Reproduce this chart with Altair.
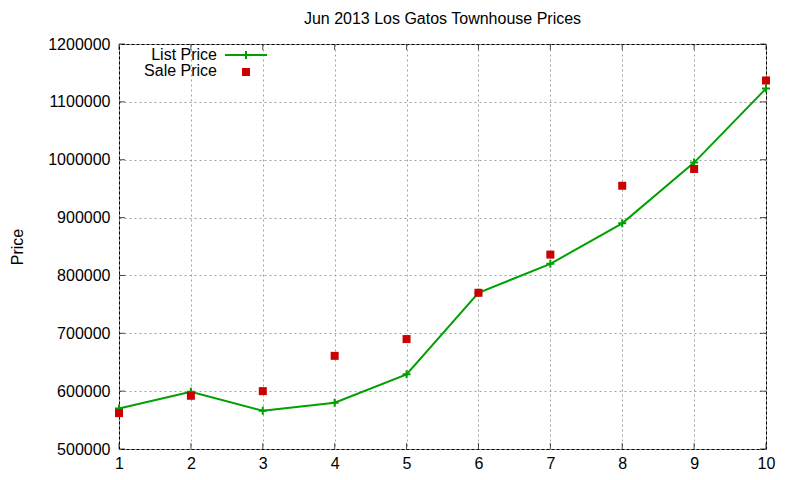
import altair as alt
import pandas as pd

months = [1, 2, 3, 4, 5, 6, 7, 8, 9, 10]
list_price = [570000, 599000, 566000, 580000, 629000, 770000, 820000, 890000, 995000, 1123000]
sale_price = [562000, 592000, 600000, 661000, 690000, 770000, 836000, 955000, 984000, 1137000]
x_ticks = [1, 2, 3, 4, 5, 6, 7, 8, 9, 10]
y_ticks = [500000, 600000, 700000, 800000, 900000, 1000000, 1100000, 1200000]

FONT = "Liberation Sans"
FS = 16
GREEN = "#00a000"
RED = "#cc0000"
W, H = 647, 405

df = pd.DataFrame({"x": months, "list": list_price, "sale": sale_price})
xt = pd.DataFrame({"x": x_ticks})
yt = pd.DataFrame({"y": y_ticks})

xs = alt.Scale(domain=[1, 10], nice=False, zero=False)
ys = alt.Scale(domain=[500000, 1200000], nice=False, zero=False)

xaxis = alt.Axis(values=x_ticks, format="d", title=None, grid=True, gridDash=[2, 3],
                 gridColor="#a0a0a0", gridOpacity=1, tickSize=0, domain=False,
                 labelFlush=False, labelOverlap=False, labelBound=False,
                 labelPadding=6, labelFont=FONT, labelFontSize=FS, labelColor="#000")
yaxis = alt.Axis(values=y_ticks, format="d", title="Price", grid=True, gridDash=[2, 3],
                 gridColor="#a0a0a0", gridOpacity=1, tickSize=0, domain=False,
                 labelFlush=False, labelOverlap=False, labelBound=False,
                 labelPadding=9, labelFont=FONT, labelFontSize=FS, labelColor="#000",
                 titleFont=FONT, titleFontSize=FS, titleFontWeight="normal",
                 titleColor="#000", titlePadding=22)

base = alt.Chart(df)

line = base.mark_line(color=GREEN, strokeWidth=2).encode(
    x=alt.X("x:Q", scale=xs, axis=xaxis),
    y=alt.Y("list:Q", scale=ys, axis=yaxis),
)
PLUS = "M-1,0L1,0M0,-1L0,1"
plus = base.mark_point(shape=PLUS, filled=False, color=GREEN, strokeWidth=2, size=64, opacity=1).encode(
    x=alt.X("x:Q", scale=xs), y=alt.Y("list:Q", scale=ys))
sq = base.mark_square(color=RED, size=64, opacity=1).encode(
    x=alt.X("x:Q", scale=xs), y=alt.Y("sale:Q", scale=ys))

# inward ticks (gnuplot style) on all four sides
tick_l = alt.Chart(yt).mark_tick(orient="horizontal", color="#000", size=6, thickness=1, xOffset=3).encode(
    x=alt.datum(1, scale=xs), y=alt.Y("y:Q", scale=ys))
tick_r = alt.Chart(yt).mark_tick(orient="horizontal", color="#000", size=6, thickness=1, xOffset=-3).encode(
    x=alt.datum(10, scale=xs), y=alt.Y("y:Q", scale=ys))
tick_b = alt.Chart(xt).mark_tick(orient="vertical", color="#000", size=6, thickness=1, yOffset=-3).encode(
    x=alt.X("x:Q", scale=xs), y=alt.datum(500000, scale=ys))
tick_t = alt.Chart(xt).mark_tick(orient="vertical", color="#000", size=6, thickness=1, yOffset=3).encode(
    x=alt.X("x:Q", scale=xs), y=alt.datum(1200000, scale=ys))

# legend (gnuplot style: label left, sample right)
leg_df = pd.DataFrame({"label": ["List Price", "Sale Price"]})
leg_text1 = alt.Chart(leg_df.iloc[[0]]).mark_text(align="right", baseline="middle", font=FONT, fontSize=FS, color="#000").encode(
    x=alt.value(98), y=alt.value(11), text="label:N")
leg_text2 = alt.Chart(leg_df.iloc[[1]]).mark_text(align="right", baseline="middle", font=FONT, fontSize=FS, color="#000").encode(
    x=alt.value(98), y=alt.value(27), text="label:N")
leg_line = alt.Chart(leg_df.iloc[[0]]).mark_rule(color=GREEN, strokeWidth=2).encode(
    x=alt.value(106), x2=alt.value(148), y=alt.value(11))
leg_plus = alt.Chart(leg_df.iloc[[0]]).mark_point(shape=PLUS, filled=False, color=GREEN, strokeWidth=2, size=64, opacity=1).encode(
    x=alt.value(127), y=alt.value(11))
leg_sq = alt.Chart(leg_df.iloc[[1]]).mark_square(color=RED, size=64, opacity=1).encode(
    x=alt.value(127), y=alt.value(28))

chart = alt.layer(
    tick_l, tick_r, tick_b, tick_t, line, plus, sq,
    leg_text1, leg_text2, leg_line, leg_plus, leg_sq,
).properties(
    width=W, height=H,
    title=alt.TitleParams("Jun 2013 Los Gatos Townhouse Prices", font=FONT, fontSize=FS,
                          fontWeight="normal", color="#000", anchor="middle", offset=9),
    autosize=alt.AutoSizeParams(type="none"),
    padding={"left": 111, "top": 36, "right": 20, "bottom": 26},
    background="white",
).configure_view(stroke="#000", strokeWidth=1)

chart.save("out.html", embed_options={"renderer": "svg", "actions": False})
